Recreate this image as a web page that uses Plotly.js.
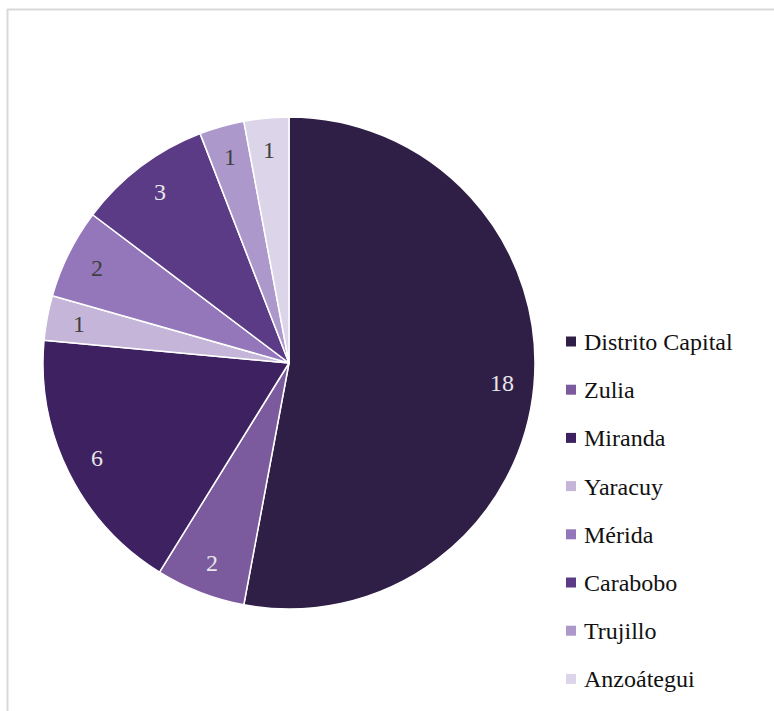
<!DOCTYPE html>
<html>
<head>
<meta charset="utf-8">
<script src="https://cdn.plot.ly/plotly-3.0.1.min.js"></script>
<style>
svg text, .annotation-text, .annotation-text tspan { font-family: "Liberation Serif", serif !important; }
</style>
</head>
<body style="margin:0;padding:0;background:#fff">
<div id="chart" style="width:774px;height:711px"></div>
<script>
const categories = ["Distrito Capital","Zulia","Miranda","Yaracuy","Mérida","Carabobo","Trujillo","Anzoátegui"];
const values = [18, 2, 6, 1, 2, 3, 1, 1];
const colors = ["#2f1e45","#7b5a9e","#3d2160","#c4b5d9","#9477bb","#5b3a86","#ad98cb","#dcd4e8"];
const labelColors = ["#e8e8e8","#e8e8e8","#e8e8e8","#404040","#404040","#e8e8e8","#404040","#404040"];

const W = 774, H = 711;
const FONT = "Liberation Serif";
// pie placement (pixels)
const pieLeft = 43, pieTop = 117, pieSize = 492;
const cx = pieLeft + pieSize/2, cy = pieTop + pieSize/2, R = pieSize/2;

const trace = {
  type: 'pie',
  labels: categories,
  values: values,
  sort: false,
  direction: 'clockwise',
  rotation: 0,
  textinfo: 'none',
  hoverinfo: 'label+value',
  marker: {colors: colors, line: {color: '#ffffff', width: 1.5}},
  domain: {x: [pieLeft/W, (pieLeft+pieSize)/W], y: [1-(pieTop+pieSize)/H, 1-pieTop/H]},
  showlegend: false
};

const annotations = [];
const shapes = [];
const total = values.reduce((a,b)=>a+b,0);
let cum = 0;
values.forEach((v,i)=>{
  const mid = (cum + v/2)/total*2*Math.PI;
  cum += v;
  const px = cx + 0.87*R*Math.sin(mid);
  const py = cy - 0.87*R*Math.cos(mid);
  annotations.push({x: px/W, y: 1-py/H, xref:'paper', yref:'paper',
    text: String(v), showarrow:false,
    xanchor:'center', yanchor:'middle', font:{family:FONT, size:24, color: labelColors[i]}});
});

// legend
const legX = 566, legTextX = 582, legY0 = 341.5, legStep = 48.2, sq = 10;
categories.forEach((c,i)=>{
  const y = legY0 + i*legStep;
  shapes.push({type:'rect', xref:'paper', yref:'paper', x0: legX/W, x1:(legX+sq)/W, y0: 1-(y-sq/2)/H, y1: 1-(y+sq/2)/H,
    fillcolor: colors[i], line:{width:0}});
  annotations.push({x: legTextX/W, y: 1-(y+0.5)/H, xref:'paper', yref:'paper', text: c, showarrow:false,
    xanchor:'left', yanchor:'middle', font:{family:FONT, size:24, color:'#111111'}});
});

// frame
shapes.push({type:'line', xref:'paper', yref:'paper', x0: 7.5/W, x1: 7.5/W, y0: 1-9/H, y1: 0, line:{color:'#d9d9d9', width:2}});
shapes.push({type:'line', xref:'paper', yref:'paper', x0: 7/W, x1: 1, y0: 1-9.5/H, y1: 1-9.5/H, line:{color:'#d9d9d9', width:2}});

Plotly.newPlot('chart', [trace], {
  width: W, height: H,
  margin: {l:0, r:0, t:0, b:0},
  paper_bgcolor: '#ffffff',
  font: {family: FONT},
  showlegend: false,
  annotations: annotations,
  shapes: shapes
}, {displayModeBar:false, staticPlot:true}).then(()=>{
  document.querySelectorAll('#chart text, #chart tspan').forEach(t=>{
    t.style.setProperty('font-family', '"Liberation Serif", serif', 'important');
  });
});
</script>
</body>
</html>
